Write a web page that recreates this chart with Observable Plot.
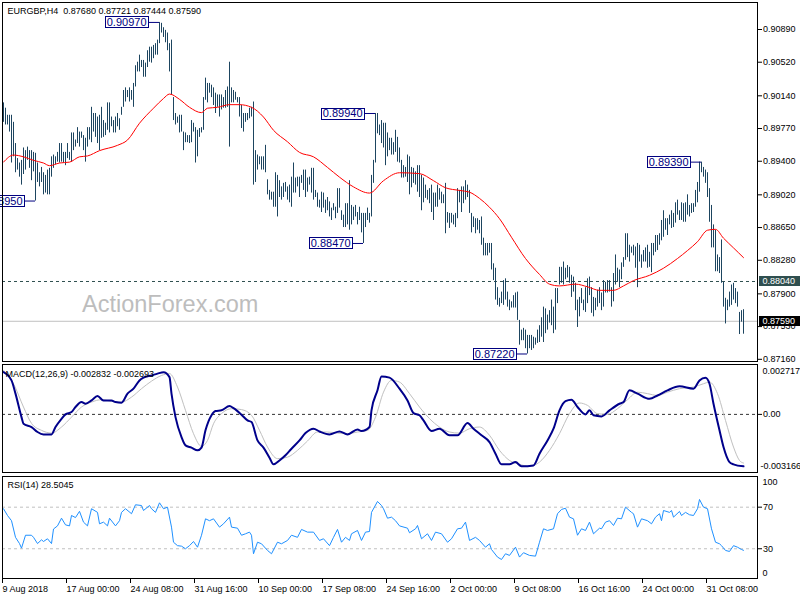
<!DOCTYPE html>
<html><head><meta charset="utf-8">
<script src="https://cdn.jsdelivr.net/npm/d3@7"></script>
<script src="https://cdn.jsdelivr.net/npm/@observablehq/plot@0.6"></script>
<style>
body{margin:0;background:#fff;}
#wrap{position:relative;width:800px;height:600px;overflow:hidden;background:#fff;}
#wrap svg{display:block;}
#wm{position:absolute;left:82px;top:293px;font:23.5px/1 "Liberation Sans",Arial,sans-serif;color:#bdbdbd;pointer-events:none;white-space:nowrap;}
</style></head><body><div id="wrap"></div><script>
// ---------- DATA ----------
const symbol = "EURGBP,H4";
const lastBar = {open: 0.87680, high: 0.87721, low: 0.87444, close: 0.87590};
const levelLine = 0.88040;

const highs = [
0.9006,0.9000,0.8992,0.8992,0.8992,0.8984,0.8960,0.8943,0.8938,0.8941,
0.8955,0.8952,0.8956,0.8952,0.8952,0.8950,0.8949,0.8938,0.8927,0.8933,
0.8927,0.8924,0.8930,0.8932,0.8945,0.8947,0.8945,0.8950,0.8960,0.8960,
0.8950,0.8950,0.8960,0.8950,0.8972,0.8972,0.8964,0.8978,0.8973,0.8973,
0.8969,0.8966,0.8978,0.8978,0.9001,0.8994,0.8994,0.8990,0.8992,0.9001,
0.8986,0.8983,0.9006,0.9006,0.8990,0.8986,0.8990,0.8994,0.8988,0.9001,
0.9020,0.9023,0.9020,0.9023,0.9020,0.9028,0.9048,0.9052,0.9060,0.9054,
0.9054,0.9051,0.9065,0.9069,0.9069,0.9071,0.9073,0.9077,0.9097,0.9096,
0.9091,0.9088,0.9085,0.9073,0.9077,0.9012,0.8994,0.8990,0.8992,0.8992,
0.8973,0.8972,0.8969,0.8969,0.8986,0.8983,0.8978,0.8975,0.8977,0.8978,
0.9012,0.9034,0.9028,0.9028,0.9026,0.9023,0.9017,0.9015,0.9015,0.9015,
0.9012,0.9020,0.9024,0.9052,0.9023,0.9020,0.9018,0.9012,0.9012,0.9003,
0.8994,0.8994,0.8994,0.9000,0.9001,0.9007,0.8952,0.8947,0.8945,0.8945,
0.8945,0.8958,0.8919,0.8907,0.8905,0.8905,0.8927,0.8924,0.8918,0.8911,
0.8915,0.8916,0.8911,0.8913,0.8922,0.8938,0.8921,0.8922,0.8922,0.8924,
0.8930,0.8930,0.8921,0.8922,0.8932,0.8932,0.8907,0.8904,0.8896,0.8905,
0.8904,0.8896,0.8899,0.8894,0.8887,0.8892,0.8888,0.8909,0.8909,0.8884,
0.8879,0.8892,0.8892,0.8918,0.8890,0.8888,0.8890,0.8882,0.8888,0.8881,
0.8881,0.8881,0.8887,0.8881,0.8924,0.8941,0.8994,0.8994,0.8981,0.8986,
0.8983,0.8983,0.8972,0.8966,0.8966,0.8961,0.8975,0.8967,0.8955,0.8941,
0.8935,0.8933,0.8947,0.8945,0.8933,0.8932,0.8928,0.8935,0.8935,0.8924,
0.8921,0.8913,0.8907,0.8909,0.8913,0.8904,0.8904,0.8913,0.8909,0.8905,
0.8902,0.8915,0.8882,0.8881,0.8881,0.8879,0.8881,0.8909,0.8907,0.8911,
0.8911,0.8918,0.8913,0.8907,0.8881,0.8877,0.8875,0.8875,0.8873,0.8877,
0.8853,0.8847,0.8847,0.8847,0.8847,0.8824,0.8819,0.8797,0.8785,0.8792,
0.8805,0.8807,0.8792,0.8783,0.8781,0.8788,0.8791,0.8792,0.8760,0.8749,
0.8751,0.8749,0.8743,0.8743,0.8743,0.8741,0.8740,0.8749,0.8754,0.8763,
0.8775,0.8773,0.8766,0.8771,0.8783,0.8775,0.8796,0.8796,0.8820,0.8820,
0.8826,0.8819,0.8822,0.8820,0.8811,0.8809,0.8802,0.8783,0.8786,0.8796,
0.8783,0.8797,0.8807,0.8809,0.8797,0.8786,0.8785,0.8794,0.8797,0.8791,
0.8805,0.8803,0.8805,0.8805,0.8797,0.8813,0.8834,0.8819,0.8817,0.8825,
0.8831,0.8858,0.8858,0.8845,0.8843,0.8845,0.8843,0.8847,0.8845,0.8834,
0.8839,0.8842,0.8845,0.8837,0.8847,0.8847,0.8856,0.8856,0.8858,0.8873,
0.8884,0.8875,0.8875,0.8879,0.8884,0.8881,0.8893,0.8896,0.8884,0.8893,
0.8892,0.8893,0.8902,0.8890,0.8892,0.8892,0.8907,0.8916,0.8939,0.8939,
0.8933,0.8930,0.8927,0.8909,0.8890,0.8868,0.8862,0.8834,0.8831,0.8851,
0.8803,0.8785,0.8783,0.8792,0.8800,0.8802,0.8796,0.8792,0.8769,0.8771,
0.87721];

const lows = [
0.8984,0.8981,0.8981,0.8973,0.8938,0.8945,0.8927,0.8930,0.8922,0.8913,
0.8925,0.8930,0.8941,0.8932,0.8918,0.8928,0.8895,0.8916,0.8911,0.8916,
0.8902,0.8904,0.8902,0.8902,0.8922,0.8932,0.8936,0.8939,0.8938,0.8939,
0.8938,0.8935,0.8943,0.8941,0.8939,0.8952,0.8956,0.8960,0.8956,0.8966,
0.8952,0.8939,0.8956,0.8964,0.8961,0.8973,0.8967,0.8960,0.8952,0.8966,
0.8967,0.8969,0.8975,0.8972,0.8979,0.8972,0.8972,0.8979,0.8975,0.8992,
0.9001,0.9007,0.9012,0.9007,0.9009,0.9001,0.9024,0.9041,0.9041,0.9046,
0.9035,0.9035,0.9046,0.9052,0.9051,0.9056,0.9060,0.9060,0.9073,0.9085,
0.9080,0.9074,0.9065,0.9041,0.9015,0.8986,0.8981,0.8983,0.8972,0.8973,
0.8952,0.8961,0.8961,0.8960,0.8961,0.8973,0.8938,0.8945,0.8967,0.8972,
0.8975,0.9009,0.9006,0.9017,0.9012,0.9003,0.8994,0.9001,0.8990,0.8998,
0.9000,0.9000,0.9001,0.8956,0.9006,0.9006,0.9009,0.9006,0.8990,0.8977,
0.8973,0.8984,0.8986,0.8988,0.8990,0.8913,0.8916,0.8930,0.8936,0.8930,
0.8930,0.8927,0.8902,0.8896,0.8896,0.8888,0.8888,0.8877,0.8899,0.8896,
0.8899,0.8905,0.8896,0.8893,0.8888,0.8904,0.8904,0.8911,0.8899,0.8915,
0.8907,0.8899,0.8905,0.8913,0.8904,0.8896,0.8899,0.8888,0.8887,0.8882,
0.8887,0.8881,0.8884,0.8877,0.8873,0.8884,0.8875,0.8881,0.8887,0.8873,
0.8865,0.8865,0.8868,0.8862,0.8868,0.8873,0.8877,0.8868,0.8873,0.8859,
0.8847,0.8865,0.8873,0.8870,0.8877,0.8915,0.8938,0.8971,0.8969,0.8960,
0.8955,0.8935,0.8945,0.8952,0.8947,0.8947,0.8950,0.8939,0.8938,0.8921,
0.8921,0.8922,0.8916,0.8902,0.8910,0.8915,0.8913,0.8905,0.8899,0.8884,
0.8893,0.8898,0.8896,0.8892,0.8882,0.8873,0.8888,0.8888,0.8896,0.8892,
0.8892,0.8858,0.8870,0.8864,0.8870,0.8868,0.8865,0.8875,0.8893,0.8882,
0.8892,0.8896,0.8899,0.8881,0.8859,0.8865,0.8858,0.8862,0.8858,0.8845,
0.8833,0.8833,0.8833,0.8836,0.8817,0.8805,0.8783,0.8777,0.8775,0.8779,
0.8777,0.8783,0.8775,0.8771,0.8774,0.8774,0.8774,0.8760,0.8732,0.8737,
0.8737,0.8728,0.8722,0.8728,0.8726,0.8728,0.8732,0.8734,0.8735,0.8741,
0.8735,0.8745,0.8749,0.8757,0.8754,0.8745,0.8749,0.8779,0.8800,0.8802,
0.8800,0.8806,0.8808,0.8802,0.8786,0.8792,0.8771,0.8752,0.8764,0.8779,
0.8771,0.8769,0.8779,0.8788,0.8768,0.8764,0.8771,0.8775,0.8779,0.8771,
0.8775,0.8791,0.8791,0.8792,0.8775,0.8781,0.8800,0.8803,0.8797,0.8806,
0.8820,0.8828,0.8831,0.8826,0.8836,0.8833,0.8819,0.8797,0.8826,0.8819,
0.8826,0.8826,0.8819,0.8820,0.8814,0.8833,0.8837,0.8839,0.8845,0.8850,
0.8854,0.8862,0.8856,0.8868,0.8864,0.8865,0.8870,0.8879,0.8873,0.8873,
0.8871,0.8871,0.8879,0.8877,0.8881,0.8882,0.8888,0.8893,0.8905,0.8927,
0.8922,0.8915,0.8899,0.8871,0.8842,0.8842,0.8815,0.8815,0.8813,0.8802,
0.8775,0.8756,0.8771,0.8775,0.8777,0.8783,0.8779,0.8775,0.8744,0.8758,
0.87444];

// moving average [bar index, price]
const maPoints = [[0,0.8939],[5,0.8947],[10,0.8945],[15,0.8941],[20,0.8938],[23,0.8935],[28,0.8938],[33,0.8939],[38,0.8945],[42,0.8946],[48,0.8952],[57,0.8958],[62,0.8964],[68,0.8983],[75,0.9000],[80,0.9011],[83,0.9016],[88,0.9010],[93,0.9001],[99,0.8995],[102,0.9000],[107,0.9001],[113,0.9004],[118,0.9004],[124,0.9001],[130,0.8990],[135,0.8975],[142,0.8962],[148,0.8950],[155,0.8945],[162,0.8933],[168,0.8922],[175,0.8911],[183,0.8904],[190,0.8918],[198,0.8927],[208,0.8926],[215,0.8918],[221,0.8910],[228,0.8907],[233,0.8905],[238,0.8898],[243,0.8888],[248,0.8875],[254,0.8854],[261,0.8830],[268,0.8812],[273,0.8801],[278,0.8799],[286,0.8801],[292,0.8798],[298,0.8794],[305,0.8794],[310,0.8799],[315,0.8805],[323,0.8811],[330,0.8819],[337,0.8830],[342,0.8839],[347,0.8849],[352,0.8862],[356,0.8863],[360,0.8853],[365,0.8842],[370,0.8831]];

// swing labels [bar index, price]
const swingLabels = [[78,0.90970],[16,0.88950],[186,0.89940],[180,0.88470],[262,0.87220],[349,0.89390]];

const priceTicks = [0.90890,0.90520,0.90140,0.89770,0.89400,0.89020,0.88650,0.88280,0.87900,0.87530,0.87160];

// MACD(12,26,9)
const macdLast = -0.002832, signalLast = -0.002693;
const macdMax = 0.002717, macdMin = -0.003166;
const macdMain = [[0,0.00230],[4,0.00185],[6,0.00113],[9,-0.00015],[10,-0.00051],[14,-0.00069],[17,-0.00096],[20,-0.00109],[24,-0.00109],[26,-0.00069],[29,-0.00024],[31,0.00000],[34,0.00013],[36,0.00040],[39,0.00067],[41,0.00058],[44,0.00076],[47,0.00100],[50,0.00076],[54,0.00076],[56,0.00067],[59,0.00064],[62,0.00113],[65,0.00140],[68,0.00185],[70,0.00200],[74,0.00212],[77,0.00222],[80,0.00230],[83,0.00203],[84,0.00113],[86,-0.00015],[89,-0.00124],[91,-0.00169],[94,-0.00181],[97,-0.00196],[99,-0.00181],[101,-0.00087],[104,-0.00005],[106,0.00018],[109,0.00022],[113,0.00045],[115,0.00034],[119,-0.00002],[122,-0.00033],[124,-0.00042],[127,-0.00142],[130,-0.00181],[133,-0.00236],[135,-0.00272],[138,-0.00251],[141,-0.00223],[144,-0.00187],[148,-0.00142],[151,-0.00102],[155,-0.00078],[158,-0.00093],[163,-0.00109],[168,-0.00093],[172,-0.00109],[177,-0.00082],[179,-0.00091],[183,-0.00069],[184,0.00022],[187,0.00131],[189,0.00207],[193,0.00200],[198,0.00140],[202,0.00076],[205,0.00007],[208,-0.00005],[210,-0.00033],[214,-0.00091],[218,-0.00078],[223,-0.00114],[227,-0.00114],[232,-0.00047],[235,-0.00078],[239,-0.00114],[243,-0.00151],[246,-0.00214],[249,-0.00272],[253,-0.00272],[256,-0.00260],[259,-0.00283],[265,-0.00278],[268,-0.00214],[272,-0.00142],[275,-0.00078],[278,0.00022],[281,0.00072],[284,0.00080],[287,0.00040],[291,0.00000],[293,0.00022],[295,-0.00005],[299,-0.00011],[303,0.00022],[308,0.00058],[310,0.00067],[313,0.00131],[317,0.00113],[323,0.00085],[327,0.00103],[332,0.00131],[338,0.00153],[345,0.00140],[348,0.00185],[351,0.00200],[353,0.00167],[355,0.00058],[358,-0.00087],[360,-0.00178],[363,-0.00260],[365,-0.00272],[370,-0.00283]];
const macdSignal = [[0,0.00240],[5,0.00167],[10,0.00040],[14,-0.00049],[19,-0.00087],[24,-0.00102],[29,-0.00069],[34,-0.00015],[39,0.00040],[44,0.00067],[49,0.00080],[54,0.00071],[59,0.00067],[64,0.00094],[69,0.00140],[74,0.00181],[79,0.00212],[83,0.00222],[87,0.00149],[91,0.00022],[95,-0.00105],[99,-0.00174],[102,-0.00142],[105,-0.00051],[109,0.00004],[114,0.00031],[119,0.00026],[124,-0.00005],[128,-0.00087],[132,-0.00178],[137,-0.00241],[142,-0.00233],[147,-0.00196],[152,-0.00145],[157,-0.00096],[162,-0.00096],[167,-0.00102],[172,-0.00105],[177,-0.00096],[182,-0.00087],[186,-0.00015],[190,0.00121],[194,0.00185],[198,0.00176],[203,0.00113],[208,0.00040],[213,-0.00023],[218,-0.00069],[223,-0.00096],[228,-0.00102],[233,-0.00078],[238,-0.00069],[243,-0.00114],[248,-0.00196],[253,-0.00251],[258,-0.00272],[263,-0.00283],[268,-0.00260],[273,-0.00196],[278,-0.00105],[283,0.00004],[288,0.00062],[292,0.00049],[297,0.00004],[302,0.00000],[307,0.00031],[312,0.00080],[317,0.00121],[322,0.00113],[327,0.00103],[332,0.00121],[338,0.00140],[345,0.00149],[350,0.00167],[353,0.00176],[357,0.00113],[361,-0.00033],[365,-0.00178],[368,-0.00251],[370,-0.00265]];

// RSI(14)
const rsiLast = 28.5045;
const rsiPoints = [[0,68.5],[2,62],[4,57],[6,41],[8,35],[9,30.6],[11,43],[14,43],[15,41],[17,35],[19,38.6],[20,37],[22,39.6],[24,35],[25,49],[27,52],[29,59.4],[31,53],[33,52],[34,62],[36,60],[38,66],[40,55.6],[42,52],[44,68.5],[47,65],[48,54],[50,55.6],[52,52],[53,59.4],[56,52],[58,57],[59,65],[61,68.5],[64,63.7],[66,72.3],[69,71.6],[70,66.8],[73,71.6],[74,68.5],[76,65],[78,74.2],[80,68.5],[82,70],[84,50.8],[85,36.3],[87,33],[89,32.5],[91,30],[93,33],[95,37],[97,31.5],[99,43],[101,58.8],[103,57],[105,58.8],[108,50.8],[110,54],[113,60.4],[114,50.8],[117,49.8],[119,43],[121,44.4],[123,46],[124,43],[125,25.2],[127,36.3],[129,34.8],[132,28.4],[134,25.2],[137,36.3],[139,34.8],[142,38],[144,43],[147,41],[149,48.6],[152,46],[155,46],[158,38],[160,39.6],[163,33],[165,41],[167,48.6],[169,36.3],[171,41],[173,38],[174,44.4],[177,47.6],[179,38],[181,46],[183,46.6],[184,65],[187,75.5],[189,71.6],[190,68.5],[192,59.4],[194,60.4],[196,57],[198,52],[202,49.8],[203,45.4],[206,49.2],[207,52.4],[209,39.6],[212,44.4],[214,38],[216,46],[219,44.4],[222,36.3],[224,39.6],[227,49.2],[229,49.8],[231,55.6],[233,38],[236,41],[238,38],[241,31.5],[243,34.8],[244,29.3],[247,22],[249,19.7],[251,25.2],[253,23.6],[256,31.5],[258,22],[260,26.2],[263,23.6],[266,22.9],[268,36.3],[270,49.2],[272,47.6],[275,49.2],[277,63.7],[279,67.8],[281,69],[283,60.4],[285,58.8],[287,43],[289,49.2],[291,47.6],[293,55.6],[295,44.4],[298,49.8],[299,49.2],[301,55.6],[303,57],[305,52.4],[307,59.4],[309,58.8],[311,70],[314,65],[315,63.7],[317,50.8],[319,58.8],[322,57],[324,54],[326,60.4],[328,63.7],[329,57],[330,66.8],[333,65],[334,66.8],[335,60.4],[338,65.9],[339,62],[341,65],[343,62.7],[345,62],[347,68.5],[348,77.4],[350,70],[352,68.5],[354,49.2],[356,36.3],[358,34.8],[359,33],[361,28.4],[363,27.4],[365,33],[367,31.5],[369,29.3],[370,28.5]];
const rsiLevels = [70, 30];

// time axis: bar index -> label
const timeTickIdx = [0,32,64,96,128,160,192,224,256,288,320,352];
const timeTickLabels = ["9 Aug 2018","17 Aug 00:00","24 Aug 08:00","31 Aug 16:00","10 Sep 00:00","17 Sep 08:00","24 Sep 16:00","2 Oct 00:00","9 Oct 08:00","16 Oct 16:00","24 Oct 00:00","31 Oct 08:00"];

// ---------- CHART ----------
const FONT = '"Liberation Sans", Arial, sans-serif';
const BAR = "#1d4560";
const NAVY = "#000080";
const f5 = d3.format(".5f");
const bars = highs.map((h, i) => ({i, high: h, low: lows[i]}));
const swings = swingLabels.map(([i, v]) => ({i, v}));
const tags = [{v: levelLine, bg: "#2f4f4f"}, {v: lastBar.close, bg: "#000000"}];
const timeMap = new Map(timeTickIdx.map((d, k) => [d, timeTickLabels[k]]));
const xDomain = [-0.5, 377];
const common = {
  width: 800, marginLeft: 2, marginRight: 43,
  x: {domain: xDomain, axis: null},
  style: {fontFamily: FONT, fontSize: "9px", color: "#000", background: "#fff", overflow: "hidden"}
};

const mainPlot = Plot.plot({
  ...common, height: 362, marginTop: 2, marginBottom: 1,
  y: {domain: [0.871351, 0.911954], axis: null},
  marks: [
    Plot.ruleY([levelLine], {stroke: "#2f4f4f", strokeDasharray: "3,3"}),
    Plot.ruleY([lastBar.close], {stroke: "#c0c0c0"}),
    Plot.ruleX(bars, {x: "i", y1: "low", y2: "high", stroke: BAR}),
    Plot.line(maPoints, {x: d => d[0], y: d => d[1], stroke: "#ff0000", strokeWidth: 1, curve: "monotone-x"}),
    Plot.axisY({anchor: "right", ticks: priceTicks, tickFormat: f5, tickSize: 4, tickPadding: 1.5, label: null, fontSize: 9}),
    Plot.ruleY(swings, {y: "v", x1: d => d.i - 5, x2: "i", stroke: NAVY}),
    Plot.text(swings, {x: d => d.i - 5, y: "v", text: d => f5(d.v), textAnchor: "end", dx: -3, fill: NAVY, fontSize: 11}),
    Plot.text(tags, {y: "v", text: d => f5(d.v), frameAnchor: "right", textAnchor: "start", dx: 5, fill: "#ffffff"}),
    Plot.text([`${symbol}\u00a0 ${[lastBar.open, lastBar.high, lastBar.low, lastBar.close].map(f5).join(" ")}`],
      {frameAnchor: "top-left", textAnchor: "start", lineAnchor: "top", dx: 5, dy: 5, fill: "#000"}),
    Plot.frame({stroke: "#000"})
  ]
});

const macdPlot = Plot.plot({
  ...common, height: 113, marginTop: 2, marginBottom: 3,
  y: {domain: [macdMin, macdMax], axis: null},
  marks: [
    Plot.ruleY([0], {stroke: "#333", strokeDasharray: "3,3"}),
    Plot.line(macdSignal, {x: d => d[0], y: d => d[1], stroke: "#c0c0c0", strokeWidth: 1, curve: "monotone-x"}),
    Plot.line(macdMain, {x: d => d[0], y: d => d[1], stroke: "#00008b", strokeWidth: 2, curve: "monotone-x"}),
    Plot.axisY({anchor: "right", ticks: [0], tickFormat: d3.format(".2f"), tickSize: 4, tickPadding: 1.5, label: null, fontSize: 9}),
    Plot.text([macdMax], {y: d => d, text: d => d3.format(".6f")(d), frameAnchor: "right", textAnchor: "start", dx: 5, dy: 7, fill: "#000"}),
    Plot.text([macdMin], {y: d => d, text: d => d3.format(".6f")(d).replace("\u2212", "-"), frameAnchor: "right", textAnchor: "start", dx: 3, dy: -6, fill: "#000"}),
    Plot.text([`MACD(12,26,9) ${d3.format(".6f")(macdLast).replace("\u2212","-")} ${d3.format(".6f")(signalLast).replace("\u2212","-")}`],
      {frameAnchor: "top-left", textAnchor: "start", lineAnchor: "top", dx: 3, dy: 6, fill: "#000"}),
    Plot.frame({stroke: "#000"})
  ]
});

const rsiPlot = Plot.plot({
  ...common, height: 125, marginTop: 1, marginBottom: 22,
  y: {domain: [1.4, 99.5], axis: null},
  marks: [
    Plot.ruleY(rsiLevels, {stroke: "#c0c0c0", strokeDasharray: "3,3"}),
    Plot.line(rsiPoints, {x: d => d[0], y: d => d[1], stroke: "#1e90ff", strokeWidth: 1}),
    Plot.axisY({anchor: "right", ticks: rsiLevels, tickSize: 4, tickPadding: 1.5, label: null, fontSize: 9}),
    Plot.text([100], {y: d => d, text: d => String(d), frameAnchor: "right", textAnchor: "start", dx: 5, dy: 6, fill: "#000"}),
    Plot.text([0], {y: d => d, text: d => String(d), frameAnchor: "right", textAnchor: "start", dx: 5, dy: -7, fill: "#000"}),
    Plot.axisX({anchor: "bottom", ticks: timeTickIdx, tickFormat: d => timeMap.get(d), tickSize: 5, tickPadding: 2, textAnchor: "start", dx: -1, label: null, fontSize: 9}),
    Plot.text([`RSI(14) ${rsiLast}`], {frameAnchor: "top-left", textAnchor: "start", lineAnchor: "top", dx: 5, dy: 5, fill: "#000"}),
    Plot.frame({stroke: "#000"})
  ]
});

const wrap = document.getElementById("wrap");
wrap.append(mainPlot, macdPlot, rsiPlot);
const wm = document.createElement("div");
wm.id = "wm"; wm.textContent = "ActionForex.com";
wrap.append(wm);

// boxes behind label texts
const NS = "http://www.w3.org/2000/svg";
(function boxes(svg) {
  const sr = svg.getBoundingClientRect();
  svg.querySelectorAll('g[aria-label="text"]').forEach(g => {
    const fill = (g.getAttribute("fill") || "").toLowerCase();
    const anno = fill === NAVY;
    const tag = fill === "#ffffff";
    if (!anno && !tag) return;
    g.querySelectorAll("text").forEach((t, k) => {
      const b = t.getBoundingClientRect();
      const cy = (b.top + b.bottom) / 2 - sr.top;
      const r = document.createElementNS(NS, "rect");
      if (anno) {
        const x0 = Math.round(b.left - sr.left) - 1.5;
        const w = Math.round(b.width) + 3;
        r.setAttribute("x", x0); r.setAttribute("width", w);
        r.setAttribute("y", Math.round(cy - 5.5) + 0.5); r.setAttribute("height", 11);
        r.setAttribute("fill", "#fff"); r.setAttribute("stroke", NAVY);
      } else {
        const x0 = Math.round(b.left - sr.left) - 4;
        r.setAttribute("x", x0); r.setAttribute("width", 800 - x0);
        r.setAttribute("y", Math.round(cy - 5)); r.setAttribute("height", 10);
        r.setAttribute("fill", tags[k].bg);
      }
      svg.insertBefore(r, g);
    });
  });
})(mainPlot);
</script></body></html>
